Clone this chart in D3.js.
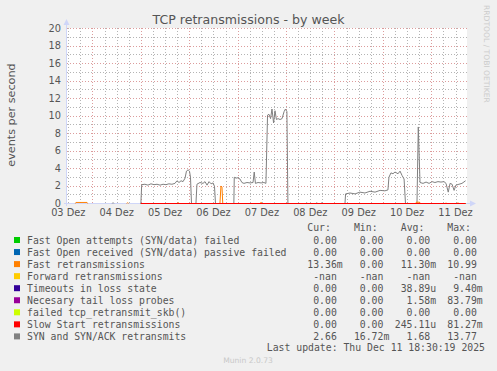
<!DOCTYPE html>
<html>
<head>
<meta charset="utf-8">
<script src="https://cdn.jsdelivr.net/npm/d3@7"></script>
<style>
  body { margin: 0; background: #f0f0f0; }
  svg text { font-family: "DejaVu Sans", sans-serif; }
  .mono { font-family: "DejaVu Sans Mono", monospace; white-space: pre; }
</style>
</head>
<body>
<div id="chart"></div>
<script>
// legend / series
var seriesNames = [
  "Fast Open attempts (SYN/data) failed",
  "Fast Open received (SYN/data) passive failed",
  "Fast retransmissions",
  "Forward retransmissions",
  "Timeouts in loss state",
  "Necesary tail loss probes",
  "failed tcp_retransmit_skb()",
  "Slow Start retransmissions",
  "SYN and SYN/ACK retransmits"
];
var seriesColors = ["#00cc00", "#0066b3", "#ff8000", "#ffcc00", "#330099", "#990099", "#ccff00", "#ff0000", "#808080"];
var curVals = ["0.00", "0.00", "13.36m", "-nan", "0.00", "0.00", "0.00", "0.00", "2.66"];
var minVals = ["0.00", "0.00", "0.00", "-nan", "0.00", "0.00", "0.00", "0.00", "16.72m"];
var avgVals = ["0.00", "0.00", "11.30m", "-nan", "38.89u", "1.58m", "0.00", "245.11u", "1.68"];
var maxVals = ["0.00", "0.00", "10.99", "-nan", "9.40m", "83.79m", "0.00", "81.27m", "13.77"];

var dayLabels = ["03 Dez", "04 Dez", "05 Dez", "06 Dez", "07 Dez", "08 Dez", "09 Dez", "10 Dez", "11 Dez"];
var yTicks = [0, 2, 4, 6, 8, 10, 12, 14, 16, 18, 20];

// [hours after 05 Dez 00:00, value]; null = no data
var synData = [
  [-14.2, 0], [-13.8, 0.1], [-13.4, 0], [-13, null],
  [0, 0], [0.4, 2.15], [2.0, 2.2], [3.5, 2.1], [5.0, 2.25], [6.5, 2.15], [8.0, 2.2], [9.5, 2.1],
  [11.0, 2.2], [12.4, 2.15], [13.9, 2.25], [15.4, 2.2], [16.9, 2.3], [17.9, 2.6], [18.9, 2.4],
  [19.9, 2.6], [20.9, 2.5], [21.9, 2.9], [22.6, 3.7], [23.4, 3.85], [24.1, 3.7], [24.6, 3.0],
  [25.1, 0], [27.3, 0], [27.8, 2.2], [29.3, 2.4], [30.8, 2.3], [31.8, 2.5], [32.8, 2.1],
  [33.8, 2.5], [34.8, 2.25], [35.8, 2.35], [36.5, 1.95], [37.0, 0], [46.1, 0], [46.3, 3.0],
  [47.2, 2.9], [48.2, 2.95], [49.1, 2.8], [50.1, 2.4], [51.1, 2.3], [52.6, 2.4], [54.1, 2.35],
  [55.6, 2.4], [56.2, 3.6], [56.8, 2.3], [58.1, 2.4], [59.6, 2.35], [61.0, 2.4], [62.0, 2.3],
  [62.8, 10.1], [63.5, 10.2], [64.3, 9.7], [65.0, 10.8], [65.8, 9.2], [66.5, 10.6], [67.2, 9.6],
  [68.0, 9.7], [69.0, 9.6], [70.0, 9.7], [71.0, 10.5], [71.7, 10.8], [72.4, 10.5], [72.9, 0],
  [82.0, 0], [82.2, 0.1], [82.5, 0], [86.9, 0], [87.2, 0.1], [87.5, 0], [89.4, 0], [89.7, 0.1],
  [90.0, 0], [101.2, 0], [101.5, 1.1], [103.7, 1.2], [106.2, 1.1], [108.6, 1.3], [111.1, 1.2],
  [113.6, 1.4], [116.1, 1.3], [118.6, 1.5], [121.0, 1.45], [122.5, 1.55], [123.0, 3.0],
  [124.0, 3.5], [125.0, 3.4], [126.0, 3.6], [127.5, 3.4], [128.5, 3.7], [129.5, 3.2],
  [130.5, 2.8], [131.2, 0], [136.9, 0], [137.55, 8.75], [138.4, 2.4], [139.9, 2.3],
  [141.4, 2.45], [142.9, 2.3], [144.4, 2.5], [145.8, 2.4], [147.3, 2.5], [148.8, 2.45],
  [150.3, 2.5], [151.3, 2.3], [152.4, 1.3], [153.3, 2.3], [154.3, 2.2], [155.3, 1.5],
  [156.2, 2.1], [157.7, 2.2], [159.2, 2.3], [161.0, 2.6]
];
var fastData = [
  [-32.5, 0], [-32.2, 0.12], [-26.7, 0.12], [-26.4, 0], [-26, null],
  [-7, 0], [-6.6, 0.1], [-6.2, 0], [-6, null],
  [0, 0], [18.2, 0], [18.5, 0.12], [18.8, 0], [39.2, 0], [39.7, 2.0], [40.2, 1.9], [40.6, 0],
  [59.3, 0], [59.6, 0.15], [59.9, 0], [136.3, 0], [136.6, 0.15], [138.2, 0.15], [138.5, 0],
  [151.0, 0], [151.3, 0.08], [151.6, 0], [156.9, 0], [157.2, 0.1], [157.5, 0], [161.0, 0]
];
var zeroData = [[0, 0], [161.0, 0]];

var seriesData = [zeroData, zeroData, fastData, [], zeroData, zeroData, zeroData, zeroData, synData];

var W = 497, H = 371;
var baseTime = new Date(2025, 11, 5, 0, 0);
function hoursToDate(h) { return new Date(+baseTime + h * 3600e3); }

var svg = d3.select("#chart").append("svg")
  .attr("width", W).attr("height", H)
  .style("display", "block");

svg.append("rect").attr("width", W).attr("height", H).attr("fill", "#f0f0f0");

var plotL = 67, plotR = 467, plotT = 28, plotB = 203;

var x = d3.scaleTime()
  .domain([new Date(2025, 11, 3, 11, 22), new Date(2025, 11, 11, 17, 42)])
  .range([plotL, plotR]);
var y = d3.scaleLinear().domain([0, 20]).range([plotB, plotT]);

svg.append("rect")
  .attr("x", plotL).attr("y", plotT).attr("width", plotR - plotL).attr("height", plotB - plotT)
  .attr("fill", "#ffffff");

var grid = svg.append("g");
var dom = x.domain();
var minorCol = "#b4b4b4", majorCol = "#dc9c9c";

// minor grid
d3.range(1, 20, 2).forEach(function(v){
  grid.append("line").attr("x1", plotL).attr("x2", plotR).attr("y1", Math.round(y(v)) + 0.5).attr("y2", Math.round(y(v)) + 0.5)
    .attr("stroke", minorCol).attr("stroke-dasharray", "1,2");
});
d3.timeHour.every(6).range(dom[0], dom[1]).forEach(function(t){
  if (t.getHours() == 0) return;
  grid.append("line").attr("x1", Math.round(x(t)) + 0.5).attr("x2", Math.round(x(t)) + 0.5)
    .attr("y1", plotT).attr("y2", plotB)
    .attr("stroke", minorCol).attr("stroke-dasharray", "1,2");
});
// major grid
yTicks.forEach(function(v){
  if (v == 0) return;
  grid.append("line").attr("x1", plotL).attr("x2", plotR + 2).attr("y1", Math.round(y(v)) + 0.5).attr("y2", Math.round(y(v)) + 0.5)
    .attr("stroke", majorCol).attr("stroke-dasharray", "1,2");
});
d3.timeDay.range(dom[0], dom[1]).forEach(function(t){
  grid.append("line").attr("x1", Math.round(x(t)) + 0.5).attr("x2", Math.round(x(t)) + 0.5)
    .attr("y1", plotT).attr("y2", plotB)
    .attr("stroke", majorCol).attr("stroke-dasharray", "1,2");
});

// tick labels
var textCol = "#555555";
svg.append("g").selectAll("text").data(yTicks).join("text")
  .attr("x", 61).attr("y", function(d){ return y(d); }).attr("dy", "0.36em")
  .attr("text-anchor", "end").attr("font-size", 9.8).attr("fill", textCol)
  .text(function(d){ return d; });

var days = d3.timeDay.range(new Date(2025, 11, 3), new Date(2025, 11, 12));
svg.append("g").selectAll("text").data(days).join("text")
  .attr("x", function(d){ return x(d3.timeHour.offset(d, 12)); })
  .attr("y", 216).attr("text-anchor", "middle").attr("font-size", 9.8).attr("fill", textCol)
  .text(function(d, i){ return dayLabels[i]; });

// axes
var axisCol = "#cfd6f8";
svg.append("line").attr("x1", plotL - 0.5).attr("x2", plotL - 0.5).attr("y1", plotB + 3).attr("y2", plotT - 4)
  .attr("stroke", axisCol);
svg.append("line").attr("x1", plotL - 3).attr("x2", plotR + 4).attr("y1", plotB + 0.5).attr("y2", plotB + 0.5)
  .attr("stroke", axisCol);
svg.append("path").attr("d", "M" + (plotL - 3.5) + "," + (plotT - 3) + "L" + (plotL - 0.5) + "," + (plotT - 9) + "L" + (plotL + 2.5) + "," + (plotT - 3) + "Z")
  .attr("fill", axisCol);
svg.append("path").attr("d", "M" + (plotR + 3) + "," + (plotB - 2.5) + "L" + (plotR + 9) + "," + (plotB + 0.5) + "L" + (plotR + 3) + "," + (plotB + 3.5) + "Z")
  .attr("fill", axisCol);

// series (pixel centred)
var line = d3.line()
  .defined(function(d){ return d[1] != null; })
  .x(function(d){ return x(hoursToDate(d[0])); })
  .y(function(d){ return y(d[1]) + 0.5; });

var drawOrder = [8, 0, 1, 2, 3, 4, 5, 6, 7];
var lines = svg.append("g");
drawOrder.forEach(function(i){
  if (!seriesData[i].length) return;
  lines.append("path").datum(seriesData[i])
    .attr("d", line)
    .attr("fill", "none")
    .attr("stroke", seriesColors[i])
    .attr("stroke-width", 1);
});

// title / labels
svg.append("text").attr("x", 248.5).attr("y", 24).attr("text-anchor", "middle")
  .attr("font-size", 12.6).attr("fill", textCol).text("TCP retransmissions - by week");
svg.append("text").attr("transform", "translate(15,115) rotate(-90)").attr("text-anchor", "middle")
  .attr("font-size", 11.2).attr("fill", textCol).text("events per second");
svg.append("text").attr("transform", "translate(484,5) rotate(90)").attr("text-anchor", "start")
  .attr("font-size", 7.6).attr("fill", "#cccccc").text("RRDTOOL / TOBI OETIKER");

// legend
var legFont = 9.8;
var colX = [301.4, 348, 394.8, 441.4];
var charW = 5.94;
var heads = ["Cur:", "Min:", "Avg:", "Max:"];
var leg = svg.append("g");
heads.forEach(function(h, j){
  leg.append("text").attr("class", "mono").attr("x", colX[j] + charW).attr("y", 231)
    .attr("font-size", legFont).attr("fill", textCol).text(h);
});
function fmt(s) {
  var m = s.match(/^(.*?)([mu]?)$/);
  return m[1].padStart(6, " ") + (m[2] || " ");
}
var cols = [curVals, minVals, avgVals, maxVals];
seriesNames.forEach(function(name, i){
  var yy = 240 + i * 12.05;
  leg.append("rect").attr("x", 14).attr("y", yy - 3).attr("width", 6).attr("height", 6)
    .attr("fill", seriesColors[i]);
  leg.append("text").attr("class", "mono").attr("x", 27).attr("y", yy + 3.5)
    .attr("font-size", legFont).attr("fill", textCol).text(name);
  cols.forEach(function(c, j){
    leg.append("text").attr("class", "mono").attr("xml:space", "preserve")
      .attr("x", colX[j]).attr("y", yy + 3.5)
      .attr("font-size", legFont).attr("fill", textCol).text(fmt(c[i]));
  });
});
leg.append("text").attr("class", "mono").attr("x", 485).attr("y", 351).attr("text-anchor", "end")
  .attr("font-size", legFont).attr("fill", textCol).text("Last update: Thu Dec 11 18:30:19 2025");
svg.append("text").attr("x", 248).attr("y", 363).attr("text-anchor", "middle")
  .attr("font-size", 7.6).attr("fill", "#c8c8c8").text("Munin 2.0.73");
</script>
</body>
</html>
